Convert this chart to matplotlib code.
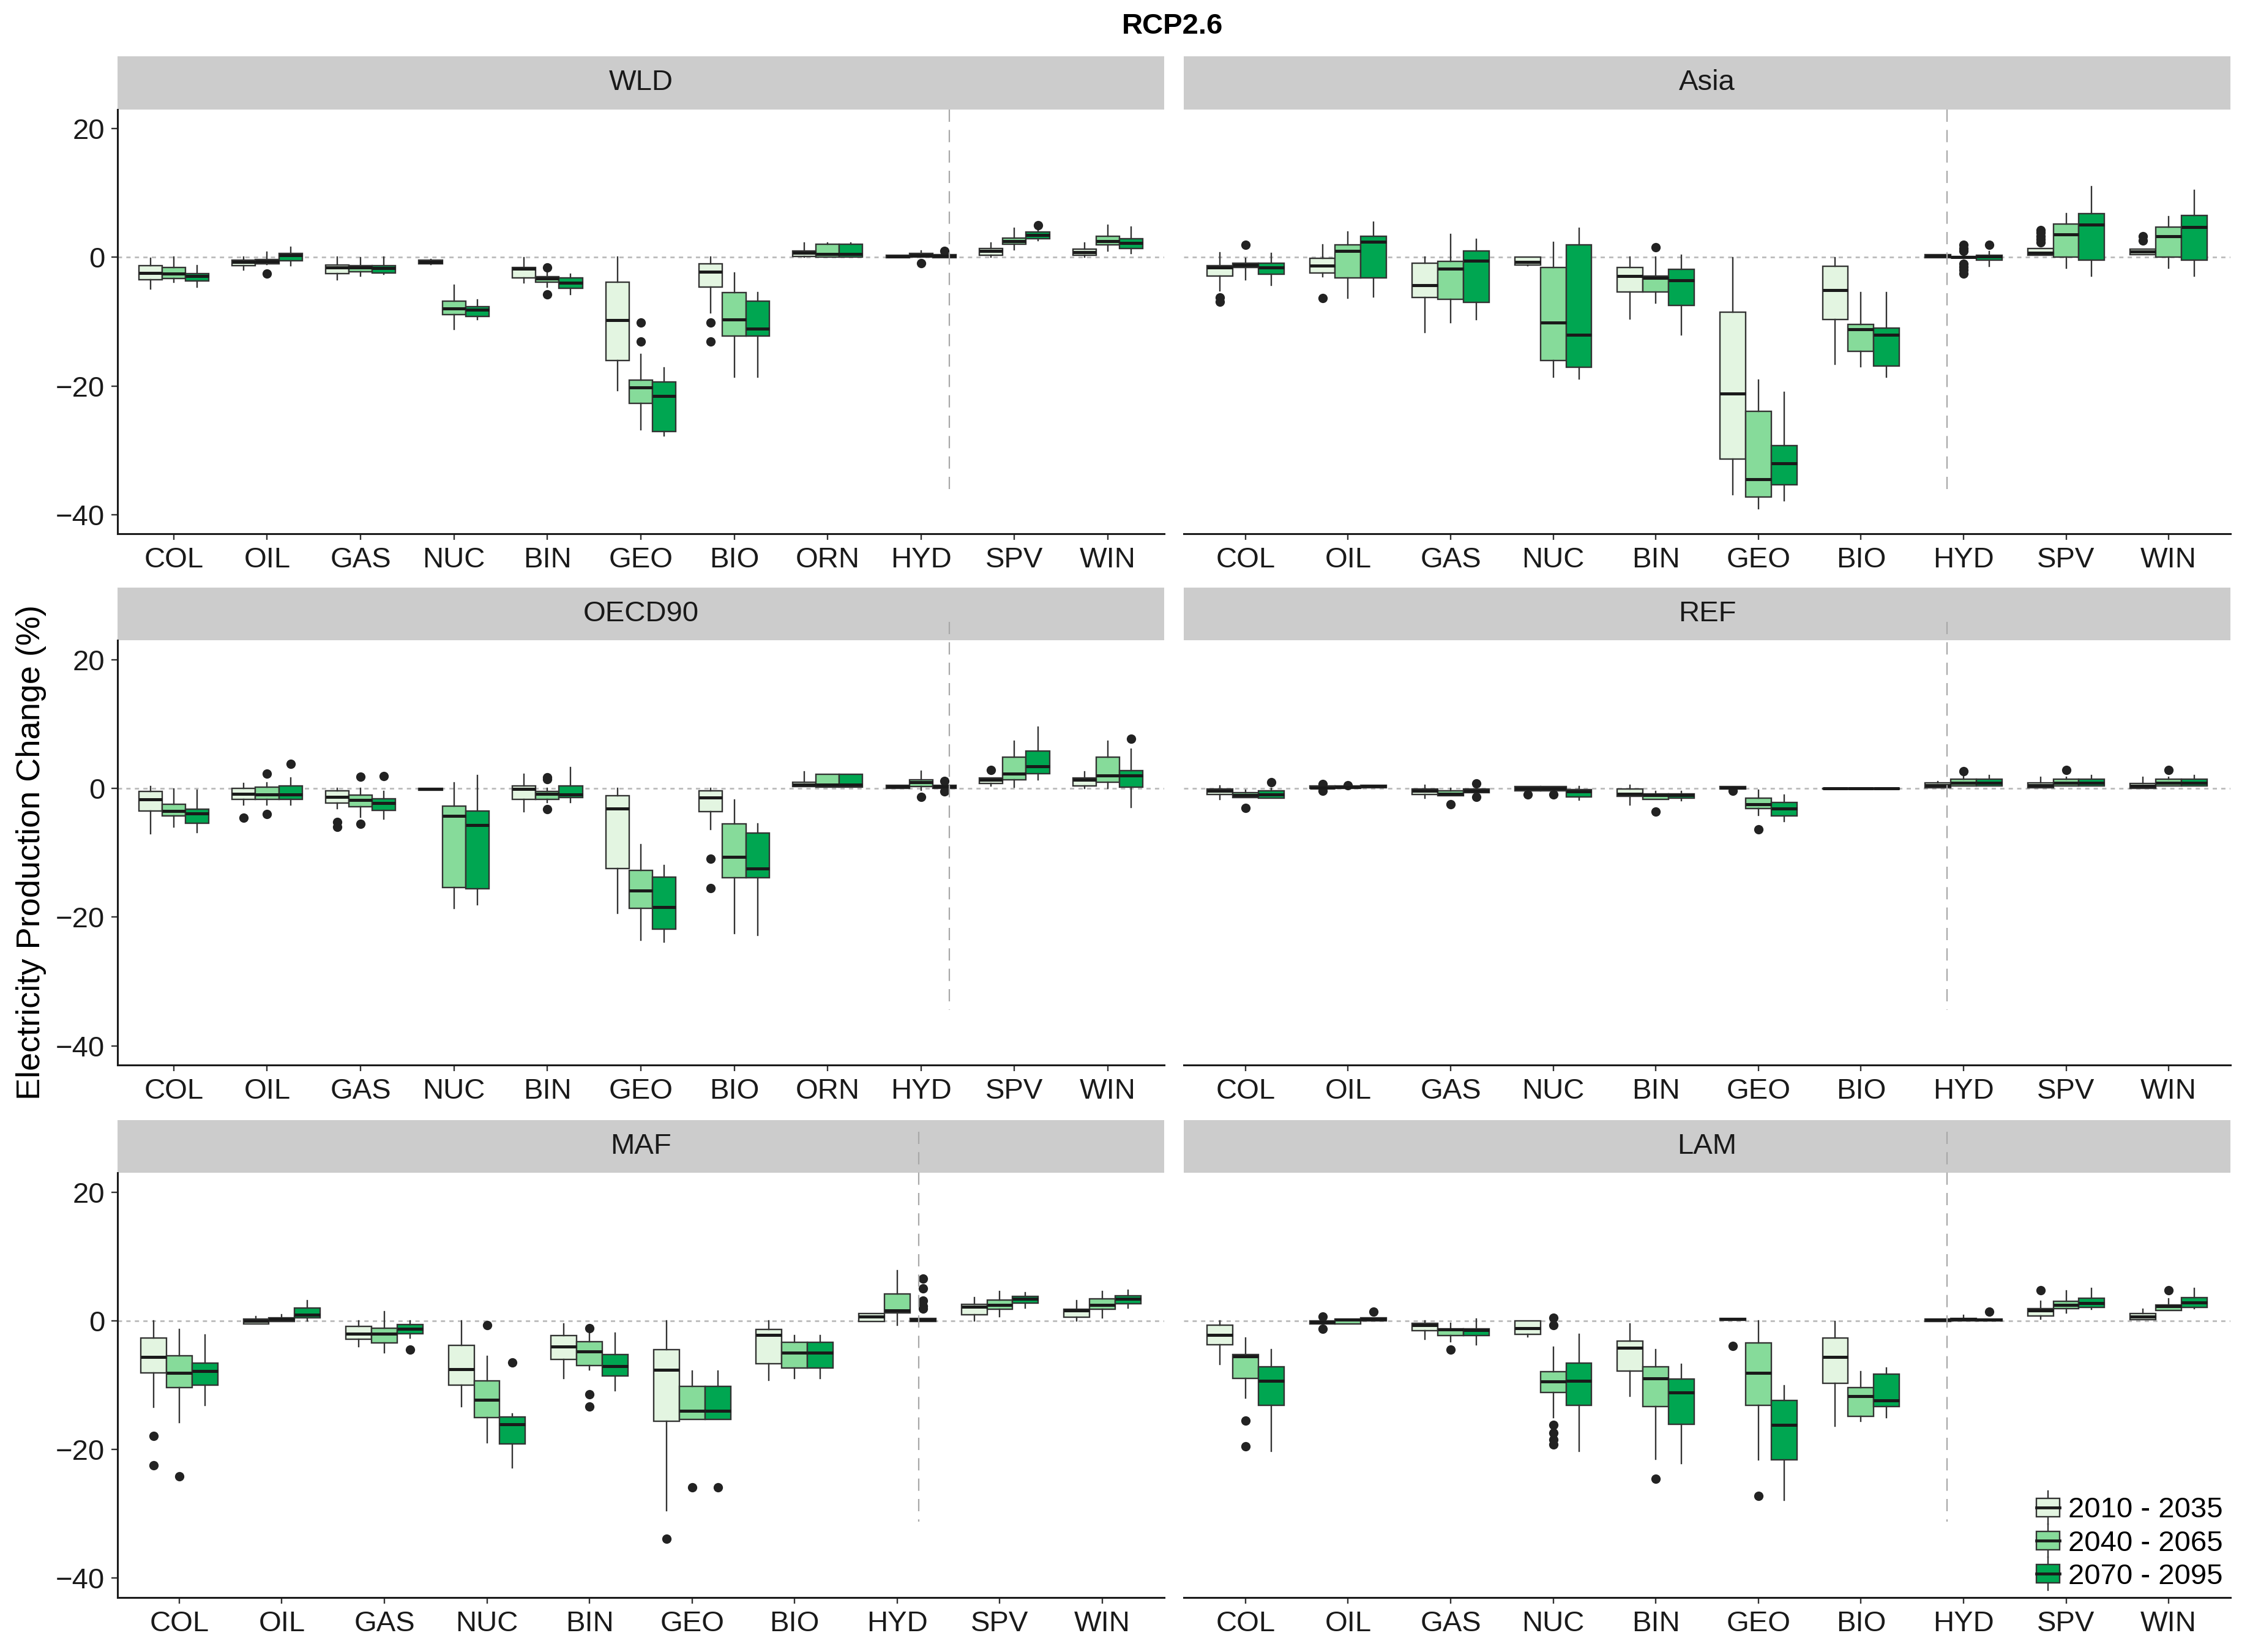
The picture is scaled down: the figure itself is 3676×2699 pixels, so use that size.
import numpy as np
import matplotlib
matplotlib.use("Agg")
import matplotlib.pyplot as plt
from matplotlib.patches import Rectangle, Patch
from matplotlib.lines import Line2D
from matplotlib.legend_handler import HandlerBase

plt.rcParams["font.family"] = ["Liberation Sans", "DejaVu Sans"]

# ---- data: (whisker low, q1, median, q3, whisker high) per technology ----
CATS_OECD = ["COL", "OIL", "GAS", "NUC", "BIN", "GEO", "BIO", "ORN", "HYD", "SPV", "WIN"]
CATS_REG = ["COL", "OIL", "GAS", "NUC", "BIN", "GEO", "BIO", "HYD", "SPV", "WIN"]
PERIODS = ["2010 - 2035", "2040 - 2065", "2070 - 2095"]
COLORS = ["#E3F5E1", "#86DB9A", "#00A651"]

wld_2010 = [(-4.9, -3.5, -2.4, -1.3, -0.2), (-2.0, -1.3, -0.75, -0.4, 0.0), (-3.5, -2.5, -1.6, -1.2, 0.0),
            (-1.1, -1.0, -0.7, -0.4, -0.3), (-4.0, -3.2, -1.8, -1.6, -0.1), (-20.7, -16.0, -9.8, -3.9, 0.0),
            (-8.6, -4.6, -2.2, -1.0, 0.0), (0.0, 0.1, 0.7, 1.0, 2.2), (-0.1, -0.1, 0.1, 0.3, 0.3),
            (0.0, 0.3, 1.0, 1.4, 2.2), (0.0, 0.3, 0.8, 1.3, 2.2)]
wld_2040 = [(-3.9, -3.3, -2.5, -1.6, 0.0), (-1.1, -1.0, -0.6, -0.3, 0.8), (-2.9, -2.2, -1.6, -1.3, -0.1),
            (-11.2, -8.9, -8.0, -6.8, -4.3), (-4.6, -3.9, -3.3, -3.0, -2.2), (-26.8, -22.7, -20.2, -19.1, -15.1),
            (-18.6, -12.2, -9.7, -5.5, -2.4), (0.0, 0.0, 0.5, 2.0, 2.2), (0.0, 0.0, 0.3, 0.6, 1.0),
            (1.2, 2.0, 2.5, 3.0, 4.5), (1.0, 1.9, 2.5, 3.3, 5.0)]
wld_2070 = [(-4.6, -3.7, -2.9, -2.5, -1.3), (-1.3, -0.5, 0.3, 0.6, 1.6), (-2.6, -2.4, -1.7, -1.3, 0.0),
            (-9.7, -9.2, -8.1, -7.7, -6.6), (-5.8, -4.8, -4.0, -3.2, -2.6), (-27.7, -27.1, -21.6, -19.4, -17.2),
            (-18.6, -12.2, -11.1, -6.8, -5.5), (0.0, 0.0, 0.5, 2.0, 2.2), (-0.1, -0.1, 0.2, 0.4, 0.4),
            (2.6, 2.9, 3.5, 3.9, 4.3), (0.6, 1.4, 2.2, 2.9, 4.7)]
wld_out = {("OIL", 1): [-2.5], ("BIN", 1): [-1.6, -5.8], ("GEO", 1): [-10.1, -13.1],
           ("BIO", 0): [-10.1, -13.1], ("HYD", 1): [-0.9], ("HYD", 2): [1.0], ("SPV", 2): [5.0]}

asia_2010 = [(-5.2, -2.9, -1.6, -1.3, 0.7), (-3.0, -2.4, -1.3, -0.2, 1.9), (-11.7, -6.2, -4.3, -0.9, 0.0),
             (-1.3, -1.2, -0.7, 0.0, 0.0), (-9.6, -5.4, -2.9, -1.6, 0.0), (-36.9, -31.4, -21.2, -8.5, -0.1),
             (-16.6, -9.7, -5.1, -1.4, -0.1), (-0.1, -0.1, 0.2, 0.4, 0.4), (0.3, 0.3, 0.7, 1.4, 1.4),
             (0.4, 0.4, 0.9, 1.3, 1.3)]
asia_2040 = [(-3.5, -1.6, -1.2, -0.9, -0.2), (-6.3, -3.2, 1.0, 1.9, 3.9), (-10.1, -6.5, -1.8, -0.6, 3.6),
             (-18.6, -16.0, -10.1, -1.6, 2.3), (-7.1, -5.4, -3.2, -2.9, 0.0), (-39.1, -37.3, -34.5, -23.9, -19.1),
             (-17.0, -14.6, -11.2, -10.4, -5.5), (-0.2, -0.1, 0.0, 0.1, 0.2), (-1.7, 0.0, 3.6, 5.2, 6.8),
             (-1.7, 0.0, 3.3, 4.7, 6.3)]
asia_2070 = [(-4.3, -2.6, -1.6, -0.9, 0.6), (-6.1, -3.2, 2.4, 3.3, 5.5), (-9.7, -7.0, -0.5, 1.0, 2.8),
             (-18.9, -17.1, -12.0, 1.9, 4.5), (-12.0, -7.5, -3.6, -1.9, 0.3), (-37.8, -35.4, -32.0, -29.3, -21.0),
             (-18.6, -16.9, -12.0, -11.0, -5.5), (-1.4, -0.4, 0.1, 0.3, 0.9), (-2.9, -0.4, 5.1, 6.8, 11.0),
             (-2.9, -0.4, 4.7, 6.5, 10.4)]
asia_out = {("COL", 0): [-6.2, -6.9], ("OIL", 0): [-6.3], ("SPV", 0): [2.3, 2.8, 3.3, 3.8, 4.2],
            ("WIN", 0): [2.6, 3.3], ("COL", 1): [1.9], ("BIN", 1): [1.6],
            ("HYD", 1): [1.9, 1.4, 1.0, -1.0, -1.5, -2.0, -2.5], ("HYD", 2): [1.9]}

oecd_2010 = [(-7.0, -3.5, -1.7, -0.5, 0.3), (-2.6, -1.7, -0.8, 0.0, 0.8), (-3.1, -2.3, -1.3, -0.4, 0.0),
             (-0.3, -0.3, -0.1, 0.0, 0.0), (-3.6, -1.7, -0.1, 0.4, 2.2), (-19.4, -12.5, -3.1, -1.1, 0.0),
             (-6.4, -3.6, -1.4, -0.4, 0.0), (0.3, 0.3, 0.6, 1.0, 2.6), (0.0, 0.0, 0.3, 0.5, 0.5),
             (0.4, 0.8, 1.3, 1.6, 1.6), (0.0, 0.4, 1.3, 1.6, 2.6)]
oecd_2040 = [(-6.0, -4.3, -3.5, -2.5, -0.1), (-2.6, -1.7, -0.9, 0.2, 0.9), (-4.5, -2.8, -1.8, -1.0, 0.0),
             (-18.6, -15.4, -4.3, -2.7, 0.9), (-2.2, -1.7, -0.8, -0.5, 0.0), (-23.6, -18.6, -15.9, -12.7, -8.75),
             (-22.5, -13.9, -10.6, -5.5, -1.8), (0.2, 0.2, 0.6, 2.2, 2.2), (-0.3, 0.3, 1.0, 1.3, 2.7),
             (0.2, 1.3, 2.3, 4.9, 7.3), (0.0, 1.0, 2.0, 4.9, 7.3)]
oecd_2070 = [(-6.8, -5.4, -3.9, -3.2, -0.3), (-2.6, -1.7, -0.9, 0.4, 1.6), (-4.7, -3.4, -2.3, -1.6, -0.5),
             (-18.1, -15.6, -5.7, -3.5, 2.0), (-2.2, -1.4, -0.9, 0.4, 3.2), (-23.9, -21.9, -18.4, -13.8, -12.0),
             (-22.8, -13.9, -12.5, -6.9, -5.5), (0.2, 0.2, 0.6, 2.2, 2.2), (0.0, 0.0, 0.3, 0.5, 0.5),
             (1.3, 2.3, 3.4, 5.8, 9.5), (-2.9, 0.2, 2.0, 2.8, 6.1)]
oecd_out = {("OIL", 0): [-4.6], ("GAS", 0): [-5.2, -6.0], ("BIO", 0): [-10.9, -15.5], ("SPV", 0): [2.9],
            ("OIL", 1): [2.3, -4.0], ("GAS", 1): [1.8, -5.5], ("BIN", 1): [1.7, 1.4, -3.2], ("HYD", 1): [-1.3],
            ("OIL", 2): [3.8], ("GAS", 2): [1.9], ("HYD", 2): [1.2, -0.5], ("WIN", 2): [7.7]}

ref_2010 = [(-1.7, -0.9, -0.4, -0.1, 0.4), (0.0, 0.0, 0.15, 0.4, 0.4), (-1.5, -0.9, -0.4, -0.1, 0.5),
            (-0.4, -0.4, 0.0, 0.3, 0.3), (-2.6, -1.2, -0.8, -0.1, 0.5), (-0.1, -0.1, 0.1, 0.3, 0.3),
            (-0.1, -0.1, 0.0, 0.05, 0.05), (0.1, 0.1, 0.5, 0.9, 1.1), (0.1, 0.1, 0.5, 0.9, 1.7),
            (0.0, 0.0, 0.4, 0.8, 1.7)]
ref_2040 = [(-1.4, -1.4, -1.0, -0.7, -0.3), (0.0, 0.0, 0.2, 0.4, 0.4), (-1.1, -1.1, -0.8, -0.4, 0.0),
            (-0.4, -0.4, 0.0, 0.3, 0.3), (-1.7, -1.7, -1.0, -0.8, -0.5), (-4.2, -3.1, -2.5, -1.5, -0.3),
            (-0.1, -0.1, 0.0, 0.05, 0.05), (0.4, 0.4, 0.9, 1.4, 1.8), (0.4, 0.4, 0.9, 1.4, 1.7),
            (0.4, 0.4, 0.9, 1.4, 1.7)]
ref_2070 = [(-1.5, -1.5, -0.9, -0.4, 0.0), (0.1, 0.1, 0.35, 0.5, 0.5), (-0.7, -0.7, -0.4, -0.1, 0.1),
            (-1.8, -1.3, -0.5, -0.2, 0.3), (-1.9, -1.5, -1.0, -0.8, -0.5), (-5.1, -4.3, -3.1, -2.2, -1.0),
            (-0.1, -0.1, 0.0, 0.05, 0.05), (0.4, 0.4, 0.9, 1.4, 2.0), (0.4, 0.4, 0.9, 1.4, 2.0),
            (0.4, 0.4, 0.9, 1.4, 2.0)]
ref_out = {("OIL", 0): [0.7, -0.4], ("NUC", 0): [-0.9], ("GEO", 0): [-0.4],
           ("COL", 1): [-3.0], ("OIL", 1): [0.5], ("GAS", 1): [-2.5], ("NUC", 1): [-0.9], ("BIN", 1): [-3.6],
           ("GEO", 1): [-6.4], ("HYD", 1): [2.7], ("SPV", 1): [2.9], ("WIN", 1): [2.9],
           ("COL", 2): [1.0], ("GAS", 2): [0.8, -1.3]}

maf_2010 = [(-13.4, -8.1, -5.6, -2.7, 0.0), (-0.5, -0.5, 0.0, 0.3, 0.7), (-4.0, -2.9, -2.0, -0.9, 0.0),
            (-13.3, -10.0, -7.5, -3.8, 0.0), (-8.9, -6.0, -4.0, -2.3, -0.5), (-29.5, -15.6, -7.6, -4.5, 0.0),
            (-9.2, -6.7, -2.2, -1.3, 0.0), (-0.1, -0.1, 0.7, 1.1, 1.1), (0.0, 1.0, 2.2, 2.6, 3.6),
            (0.0, 0.6, 1.6, 1.8, 3.1)]
maf_2040 = [(-15.8, -10.4, -8.1, -5.4, -1.3), (-0.1, -0.1, 0.3, 0.5, 1.0), (-4.9, -3.4, -2.0, -1.1, 1.4),
            (-18.9, -15.0, -12.3, -9.3, -5.5), (-7.6, -6.9, -4.8, -3.2, -2.0), (-15.3, -15.3, -14.0, -10.2, -7.8),
            (-8.9, -7.3, -4.9, -3.3, -2.3), (-0.7, 1.2, 1.6, 4.2, 7.8), (0.7, 1.8, 2.5, 3.2, 4.6),
            (0.5, 1.8, 2.5, 3.4, 4.6)]
maf_2070 = [(-13.1, -10.0, -7.8, -6.6, -2.2), (0.0, 0.5, 1.0, 2.0, 3.1), (-2.7, -2.0, -1.2, -0.6, 0.0),
            (-22.8, -19.1, -16.1, -14.9, -14.5), (-10.8, -8.6, -7.0, -5.2, -1.9), (-15.3, -15.3, -14.0, -10.2, -7.8),
            (-8.9, -7.3, -4.9, -3.3, -2.3), (-0.1, -0.1, 0.2, 0.4, 0.4), (2.0, 2.8, 3.4, 3.8, 4.4),
            (2.0, 2.7, 3.4, 3.9, 4.8)]
maf_out = {("COL", 0): [-17.9, -22.5], ("GEO", 0): [-33.9],
           ("COL", 1): [-24.2], ("NUC", 1): [-0.7], ("BIN", 1): [-1.1, -11.4, -13.3], ("GEO", 1): [-25.9],
           ("GAS", 2): [-4.5], ("NUC", 2): [-6.5], ("GEO", 2): [-25.9], ("HYD", 2): [6.6, 5.0, 3.1, 2.3, 1.9]}

lam_2010 = [(-6.8, -3.7, -2.2, -0.7, 0.0), (-0.5, -0.5, -0.2, 0.0, 0.0), (-2.9, -1.5, -0.7, -0.4, 0.0),
            (-2.5, -2.1, -1.1, 0.0, 0.0), (-11.7, -7.8, -4.2, -3.1, -0.5), (0.05, 0.05, 0.25, 0.4, 0.4),
            (-16.4, -9.7, -5.6, -2.7, -0.1), (-0.1, -0.1, 0.15, 0.3, 0.3), (0.3, 0.8, 1.6, 1.9, 3.0),
            (0.2, 0.2, 0.7, 1.1, 1.8)]
lam_2040 = [(-12.0, -8.9, -5.5, -5.2, -2.7), (-0.5, -0.5, 0.2, 0.3, 0.3), (-3.2, -2.3, -1.3, -1.2, -0.4),
            (-15.0, -11.1, -9.4, -7.9, -4.1), (-21.5, -13.3, -8.9, -7.1, -4.5), (-21.6, -13.1, -8.1, -3.4, 0.0),
            (-15.6, -14.8, -11.7, -10.4, -7.9), (0.0, 0.0, 0.25, 0.4, 0.9), (1.2, 1.9, 2.5, 3.0, 4.7),
            (1.6, 1.6, 2.3, 2.5, 3.4)]
lam_2070 = [(-20.3, -13.1, -9.3, -7.1, -4.5), (0.0, 0.0, 0.3, 0.5, 0.5), (-3.7, -2.3, -1.4, -1.2, 0.3),
            (-20.3, -13.1, -9.3, -6.6, -2.1), (-22.2, -16.1, -11.1, -9.0, -6.8), (-27.9, -21.6, -16.2, -12.4, -10.1),
            (-15.0, -13.3, -12.4, -8.3, -7.3), (0.0, 0.0, 0.15, 0.3, 0.3), (1.8, 2.1, 2.8, 3.5, 5.0),
            (1.9, 2.1, 2.9, 3.6, 5.0)]
lam_out = {("OIL", 0): [0.7, -1.2], ("GEO", 0): [-3.9], ("SPV", 0): [4.8],
           ("COL", 1): [-15.5, -19.5], ("GAS", 1): [-4.5], ("NUC", 1): [0.5, -0.7, -16.2, -17.4, -18.5, -19.2],
           ("BIN", 1): [-24.5], ("GEO", 1): [-27.2], ("WIN", 1): [4.8],
           ("OIL", 2): [1.4], ("HYD", 2): [1.4]}

# ---- styling ----
EDGE = "#333333"
MED = "#1a1a1a"
FS = 34
BOX_LW = 1.7

panels = [
    ("WLD", CATS_OECD, [wld_2010, wld_2040, wld_2070], wld_out, 9.3),
    ("Asia", CATS_REG, [asia_2010, asia_2040, asia_2070], asia_out, 7.84),
    ("OECD90", CATS_OECD, [oecd_2010, oecd_2040, oecd_2070], oecd_out, 9.3),
    ("REF", CATS_REG, [ref_2010, ref_2040, ref_2070], ref_out, 7.84),
    ("MAF", CATS_REG, [maf_2010, maf_2040, maf_2070], maf_out, 8.21),
    ("LAM", CATS_REG, [lam_2010, lam_2040, lam_2070], lam_out, 7.84),
]

col_left = [0.0523, 0.5262]
row_bottom = [0.6768, 0.3553, 0.0330]
ax_w, ax_h = 0.4650, 0.257
strip_h = 0.125
# extent of the dashed separator per row (data units)
vline_span = [(23.0, -37.3), (25.9, -34.4), (29.4, -31.2)]


class BoxKey(HandlerBase):
    def create_artists(self, legend, orig_handle, xdescent, ydescent, width, height, fontsize, trans):
        x0, y0 = -xdescent, -ydescent
        cx = x0 + width / 2
        wl = Line2D([cx, cx], [y0 - 0.4 * height, y0 + 1.4 * height], color=EDGE, lw=BOX_LW)
        box = Rectangle((x0, y0), width, height, facecolor=orig_handle.get_facecolor(),
                        edgecolor=EDGE, lw=BOX_LW)
        md = Line2D([x0, x0 + width], [y0 + height / 2] * 2, color=MED, lw=3.4)
        for a in (wl, box, md):
            a.set_transform(trans)
        return [wl, box, md]


fig = plt.figure(figsize=(36.76, 26.99), dpi=100)

for p, (name, cats, rows_by_period, outl, vx) in enumerate(panels):
    r, c = divmod(p, 2)
    ax = fig.add_axes([col_left[c], row_bottom[r], ax_w, ax_h])
    n = len(cats)
    base = np.arange(1, n + 1)

    ax.axhline(0, color="#BBBBBB", lw=2, ls=(0, (2.5, 2.5)), zorder=0)

    for k, rows in enumerate(rows_by_period):
        stats = []
        for i, (lo, q1, med, q3, hi) in enumerate(rows):
            stats.append(dict(whislo=lo, q1=q1, med=med, q3=q3, whishi=hi,
                              fliers=outl.get((cats[i], k), [])))
        ax.bxp(stats, positions=base + (k - 1) * 0.25, widths=0.25, patch_artist=True,
               showcaps=False, manage_ticks=False,
               boxprops=dict(facecolor=COLORS[k], edgecolor=EDGE, linewidth=BOX_LW),
               medianprops=dict(color=MED, linewidth=3.6),
               whiskerprops=dict(color=EDGE, linewidth=BOX_LW),
               flierprops=dict(marker="o", markerfacecolor="#222222", markeredgecolor="#222222",
                               markersize=10))

    ax.set_xlim(0.4, n + 0.6)
    ax.set_ylim(-43, 23)
    ax.set_xticks(base)
    ax.set_xticklabels(cats)
    ax.set_yticks([-40, -20, 0, 20])
    ax.tick_params(labelsize=FS, length=7, width=1.7, color=EDGE, pad=8, labelcolor="#1a1a1a")

    for s in ("top", "right"):
        ax.spines[s].set_visible(False)
    ax.spines["bottom"].set_linewidth(2.2)
    ax.spines["bottom"].set_color("#1a1a1a")
    if c == 0:
        ax.spines["left"].set_linewidth(2.2)
        ax.spines["left"].set_color("#1a1a1a")
    else:
        ax.spines["left"].set_visible(False)
        ax.tick_params(axis="y", left=False, labelleft=False)

    # facet strip
    ax.add_patch(Rectangle((0, 1), 1, strip_h, transform=ax.transAxes, clip_on=False,
                           facecolor="#CCCCCC", edgecolor="none", zorder=1))
    ax.text(0.5, 1 + strip_h / 2, name, transform=ax.transAxes, ha="center", va="center",
            fontsize=FS, color="#1a1a1a")

    # dashed separator between dispatchable and variable sources
    y_top, y_bot = vline_span[r]
    ax.plot([vx, vx], [y_top, y_bot], color="#A8A8A8", lw=1.6, ls=(0, (9, 6)),
            clip_on=False, zorder=6)

    if name == "LAM":
        handles = [Patch(facecolor=col) for col in COLORS]
        ax.legend(handles, PERIODS, handler_map={Patch: BoxKey()}, loc="lower right",
                  frameon=False, fontsize=FS, handlelength=0.8, handleheight=0.6,
                  handletextpad=0.3, labelspacing=0.22, borderaxespad=0.15, borderpad=0.1)

fig.text(0.521, 0.984, "RCP2.6", ha="center", va="center", fontsize=FS, fontweight="bold")
fig.text(0.014, 0.484, "Electricity Production Change (%)", rotation=90, ha="center",
         va="center", fontsize=39)

fig.savefig("out.png", dpi=100)
